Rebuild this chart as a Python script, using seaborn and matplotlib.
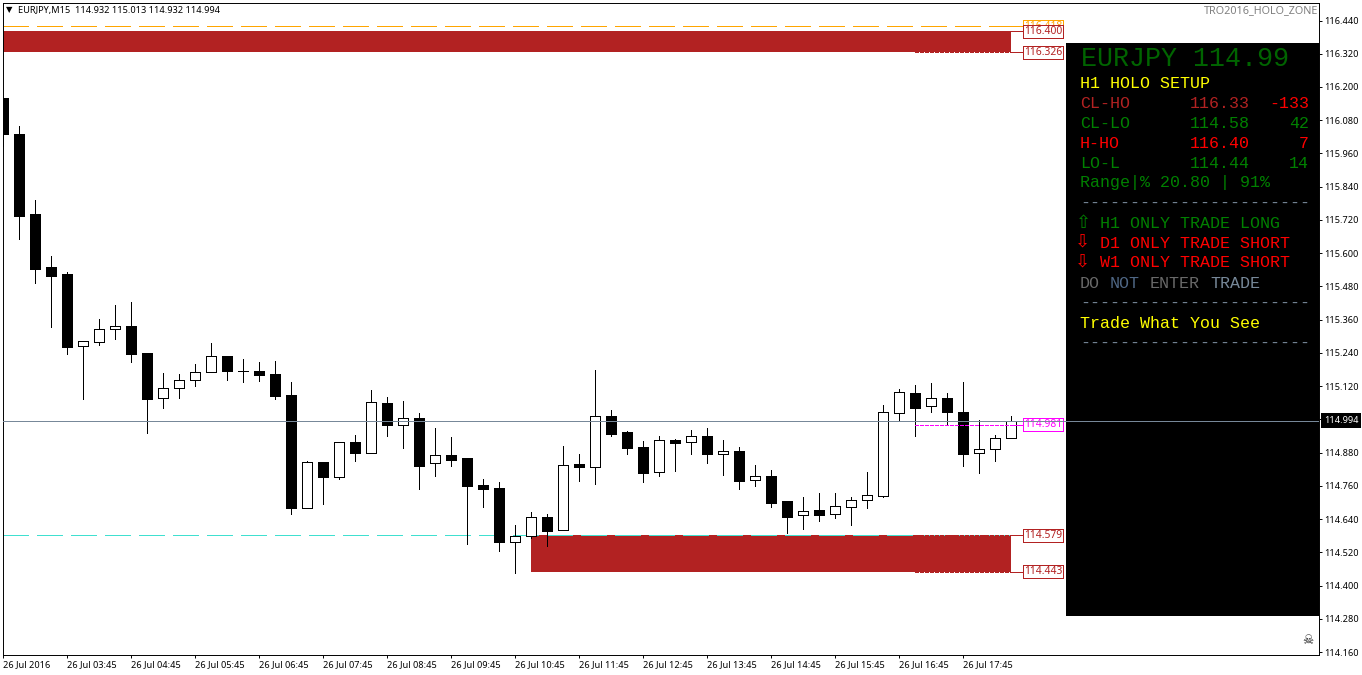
# EURJPY M15 chart with holo zones and info panel
import pandas as pd
import seaborn as sns
import matplotlib
matplotlib.use("Agg")
import matplotlib.pyplot as plt
from matplotlib.patches import Rectangle

W, H = 1362, 675
UI_FONT = "Noto Sans"
MONO = "Liberation Mono"
LW = 0.7

# candles
bar_dir = "BBBBB" "WWW" "BB" "WWWW" "B" "W" "BBB" "W" "B" "W" "B" "W" "B" "W" "B" "W" "BBBB" "WW" "B" "W" "B" "W" "BBB" "W" "B" "W" "B" "W" "B" "W" "BB" "W" "B" "WWWWW" "B" "W" "BB" "WWW"
bar_high = [116.160, 116.059, 115.792, 115.590, 115.532, 115.283, 115.362, 115.413, 115.424, 115.240,
            115.167, 115.164, 115.200, 115.276, 115.229, 115.218, 115.207, 115.211, 115.135, 114.850,
            114.846, 114.918, 114.944, 115.106, 115.081, 115.066, 115.023, 114.969, 114.936, 114.861,
            114.785, 114.774, 114.619, 114.666, 114.658, 114.904, 114.875, 115.178, 115.034, 114.958,
            114.922, 114.940, 114.929, 114.962, 114.969, 114.926, 114.900, 114.835, 114.817, 114.705,
            114.720, 114.734, 114.734, 114.720, 114.810, 115.052, 115.110, 115.124, 115.131, 115.095,
            115.135, 114.998, 114.944, 115.013]
bar_top = [116.160, 116.030, 115.741, 115.550, 115.525, 115.283, 115.326, 115.337, 115.337, 115.240,
           115.113, 115.142, 115.171, 115.229, 115.229, 115.175, 115.175, 115.164, 115.088, 114.846,
           114.846, 114.918, 114.918, 115.063, 115.059, 115.005, 115.005, 114.871, 114.871, 114.861,
           114.763, 114.752, 114.579, 114.648, 114.648, 114.835, 114.839, 115.012, 115.012, 114.954,
           114.900, 114.926, 114.926, 114.940, 114.940, 114.886, 114.886, 114.796, 114.796, 114.705,
           114.669, 114.673, 114.687, 114.709, 114.727, 115.027, 115.099, 115.095, 115.077, 115.077,
           115.027, 114.893, 114.933, 114.994]
bar_bot = [116.030, 115.734, 115.543, 115.518, 115.261, 115.265, 115.279, 115.326, 115.236, 115.074,
           115.077, 115.113, 115.142, 115.171, 115.175, 115.175, 115.160, 115.084, 114.680, 114.680,
           114.792, 114.792, 114.879, 114.879, 114.980, 114.980, 114.832, 114.843, 114.853, 114.760,
           114.749, 114.557, 114.557, 114.579, 114.597, 114.601, 114.828, 114.828, 114.947, 114.897,
           114.806, 114.810, 114.915, 114.918, 114.875, 114.875, 114.778, 114.781, 114.698, 114.648,
           114.655, 114.655, 114.658, 114.684, 114.709, 114.723, 115.023, 115.041, 115.048, 115.027,
           114.875, 114.879, 114.893, 114.932]
bar_low = [115.987, 115.651, 115.492, 115.334, 115.236, 115.074, 115.269, 115.290, 115.207, 114.951,
           115.041, 115.077, 115.121, 115.171, 115.142, 115.135, 115.139, 115.074, 114.658, 114.680,
           114.695, 114.785, 114.850, 114.879, 114.940, 114.897, 114.749, 114.796, 114.832, 114.550,
           114.684, 114.525, 114.445, 114.572, 114.543, 114.601, 114.778, 114.767, 114.940, 114.875,
           114.774, 114.796, 114.814, 114.875, 114.843, 114.799, 114.749, 114.760, 114.684, 114.590,
           114.604, 114.633, 114.644, 114.619, 114.680, 114.720, 114.998, 114.940, 115.027, 114.983,
           114.832, 114.806, 114.850, 114.932]

# price levels
last_price = 114.994
zone_top = [116.402, 116.326]
zone_low = [114.581, 114.450]
level_orange = 116.419
level_cyan = 114.581
level_magenta = 114.981

y_ticks = [116.44, 116.32, 116.20, 116.08, 115.96, 115.84, 115.72, 115.60, 115.48, 115.36,
           115.24, 115.12, 115.00, 114.88, 114.76, 114.64, 114.52, 114.40, 114.28, 114.16]
x_labels = ["26 Jul 2016", "26 Jul 03:45", "26 Jul 04:45", "26 Jul 05:45", "26 Jul 06:45", "26 Jul 07:45",
            "26 Jul 08:45", "26 Jul 09:45", "26 Jul 10:45", "26 Jul 11:45", "26 Jul 12:45", "26 Jul 13:45",
            "26 Jul 14:45", "26 Jul 15:45", "26 Jul 16:45", "26 Jul 17:45"]

sns.set_style("white")
plt.rcParams["font.family"] = [UI_FONT, "DejaVu Sans"]

df = pd.DataFrame({"bar": range(len(bar_high)), "dir": list(bar_dir), "high": bar_high,
                   "top": bar_top, "bot": bar_bot, "low": bar_low})
df["height"] = df["top"] - df["bot"]

fig = plt.figure(figsize=(W / 100, H / 100), dpi=100, facecolor="white")
ax = fig.add_axes([2.5 / W, 1 - 654.5 / H, (1319 - 2.5) / W, (654.5 - 2.5) / H])

# wicks then bodies
ax.vlines(df["bar"], df["low"], df["high"], color="black", lw=LW, zorder=2, antialiased=False)
for d, fill in [("B", "black"), ("W", "white")]:
    sub = df[df["dir"] == d]
    sns.barplot(data=sub, x="bar", y="height", bottom=sub["bot"], native_scale=True, width=0.64,
                color=fill, edgecolor="black", linewidth=LW, saturation=1, errorbar=None,
                zorder=3, antialiased=False, ax=ax)

xmin, xmax = -0.03, 82.25
last = df["bar"].iloc[-1]
lab_x = 65.0
conn_x = 63.75
dash_from = 57

# zones
ax.fill_between([xmin, last], zone_top[1], zone_top[0], color="#B22222", lw=0, zorder=1)
ax.fill_between([33, last], zone_low[1], zone_low[0], color="#B22222", lw=0, zorder=1)

# long dashed levels
ax.hlines(level_orange, xmin, last, color="#FFA500", lw=LW, linestyles=(0, (26, 8.6)), zorder=1.5, antialiased=False)
ax.hlines(level_cyan, xmin, last, color="#40E0D0", lw=LW, linestyles=(0, (26, 8.6)), zorder=1.5, antialiased=False)
ax.hlines(last_price, xmin, xmax, color="#778899", lw=LW, zorder=5, antialiased=False)

# short dashes and right hand labels
for lev, col in [(zone_top[1], "#B22222"), (zone_low[0], "#B22222"), (zone_low[1], "#B22222"),
                 (level_magenta, "#FF00FF")]:
    ax.hlines(lev, dash_from, last, color=col, lw=LW, linestyles=(0, (3.2, 2)), zorder=4, antialiased=False)
levels = [(level_orange, "#FFA500", "116.418"), (zone_top[0], "#B22222", "116.400"),
          (zone_top[1], "#B22222", "116.326"), (level_magenta, "#FF00FF", "114.981"),
          (zone_low[0], "#B22222", "114.579"), (zone_low[1], "#B22222", "114.443")]
for lev, col, txt in levels:
    ax.hlines(lev, last, conn_x, color=col, lw=LW, zorder=4, antialiased=False)
    ax.text(lab_x, lev, txt, color=col, fontsize=7.4, ha="center", va="center", zorder=4,
            bbox=dict(boxstyle="square,pad=0.1", fc="white", ec=col, lw=LW, antialiased=False))

ax.set_xlim(xmin, xmax)
ax.set_ylim(114.151, 116.505)

# black info panel
ax.add_patch(Rectangle(((1066 - 2.5) / 1316.5, (654.5 - 616) / 652), 253 / 1316.5, 573 / 652,
                       transform=ax.transAxes, fc="black", ec="none", zorder=4.5))

# axes
ax.set_xticks(range(0, len(x_labels) * 4, 4))
ax.set_xticklabels(x_labels, ha="left", fontsize=6.6, color="black")
ax.set_xlabel("")
ax.set_ylabel("")
ax.yaxis.tick_right()
ax.set_yticks(y_ticks)
ax.set_yticklabels([f"{v:.3f}" for v in y_ticks], fontsize=6.6, color="black")
ax.tick_params(axis="both", which="major", length=2.5, width=LW, color="black", pad=1.5,
               bottom=True, right=True, left=False)
for s in ax.spines.values():
    s.set_color("black")
    s.set_linewidth(LW)


def ftext(x, y, s, color="black", size=12, family=MONO, ha="left"):
    fig.text(x / W, 1 - y / H, s, color=color, fontsize=size, family=family, ha=ha, va="center")


# header and corner texts
ftext(9, 10, "▼", size=6, family="DejaVu Sans", ha="center")
ftext(18, 10.5, "EURJPY,M15  114.932 115.013 114.932 114.994", size=6.6, family=UI_FONT)
ftext(1318, 11, "TRO2016_HOLO_ZONE", color="#808080", size=7.8, family=UI_FONT, ha="right")
ftext(1308, 640, "☠", color="#222222", size=9, family="DejaVu Sans", ha="center")

# last price tag
fig.text(1341 / W, 1 - 420.5 / H, "114.994", color="white", fontsize=6.6, ha="center", va="center",
         bbox=dict(boxstyle="square,pad=0.3", fc="black", ec="black", lw=0))

# panel text
green, red, brick, slate, yellow = "#008000", "#FF0000", "#B22222", "#778899", "#FFFF00"
rule = "-" * 23
ftext(1081, 59, "EURJPY 114.99", color="#006400", size=19.2)
ftext(1080, 83, "H1 HOLO SETUP", color=yellow)
for y, name, price, pts, c1, c2 in [(103, "CL-HO", "116.33", "-133", brick, red),
                                    (123, "CL-LO", "114.58", "42", green, green),
                                    (143, "H-HO", "116.40", "7", red, red),
                                    (163, "LO-L", "114.44", "14", green, green)]:
    ftext(1080, y, name, color=c1)
    ftext(1190, y, price, color=red if c1 == red else c1)
    ftext(1309, y, pts, color=c2, ha="right")
ftext(1080, 183, "Range|% 20.80 | 91%", color=green)
ftext(1080, 203, rule, color=slate)
ftext(1083, 223, "⇧", color=green, size=13, family="DejaVu Sans", ha="center")
ftext(1100, 223, "H1 ONLY TRADE LONG", color=green)
ftext(1082, 242, "⇩", color=red, size=13, family="DejaVu Sans", ha="center")
ftext(1100, 243, "D1 ONLY TRADE SHORT", color=red)
ftext(1082, 262, "⇩", color=red, size=13, family="DejaVu Sans", ha="center")
ftext(1100, 263, "W1 ONLY TRADE SHORT", color=red)
ftext(1080, 283, "DO", color="#696969")
ftext(1110, 283, "NOT", color="#4F6785")
ftext(1150, 283, "ENTER", color="#696969")
ftext(1210, 283, "TRADE", color=slate)
ftext(1080, 303, rule, color=slate)
ftext(1080, 323, "Trade What You See", color=yellow)
ftext(1080, 343, rule, color=slate)

fig.savefig("out.png", dpi=100)
